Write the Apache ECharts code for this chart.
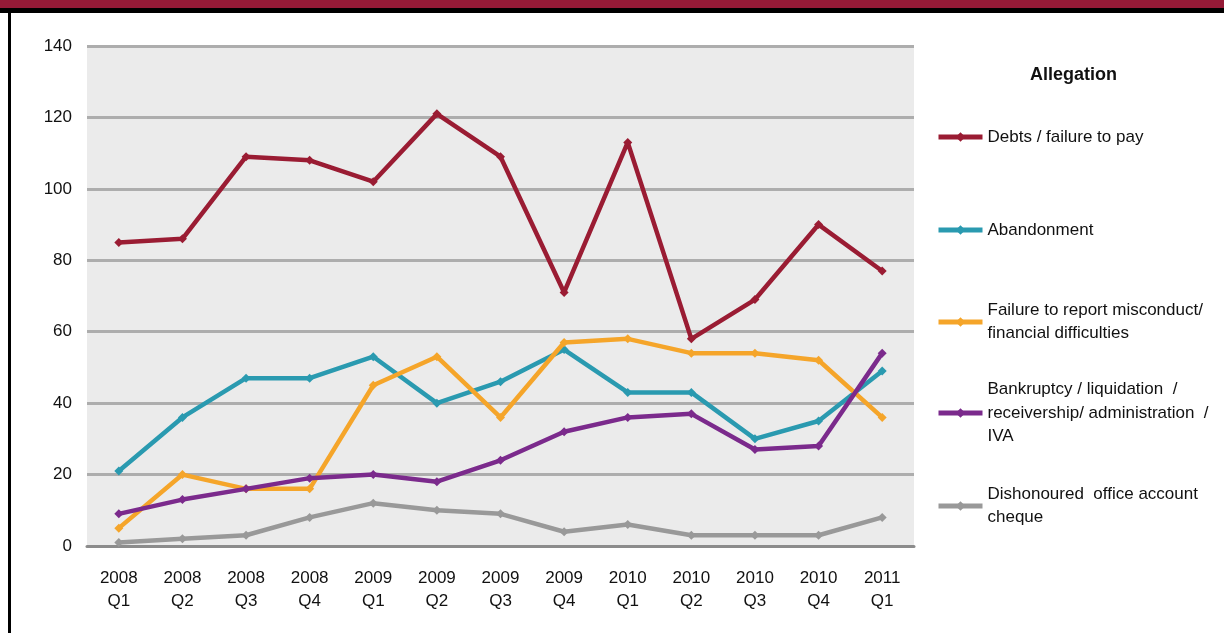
<!DOCTYPE html>
<html><head><meta charset="utf-8">
<script src="https://cdn.jsdelivr.net/npm/echarts@6/dist/echarts.min.js"></script>
<style>html,body{margin:0;padding:0;background:#fff}#c{width:1224px;height:635px}</style>
</head><body><div id="c"></div>
<script>
const categories = ['2008\nQ1','2008\nQ2','2008\nQ3','2008\nQ4','2009\nQ1','2009\nQ2','2009\nQ3','2009\nQ4','2010\nQ1','2010\nQ2','2010\nQ3','2010\nQ4','2011\nQ1'];
const debts = [85, 86, 109, 108, 102, 121, 109, 71, 113, 58, 69, 90, 77];
const abandonment = [21, 36, 47, 47, 53, 40, 46, 55, 43, 43, 30, 35, 49];
const failureReport = [5, 20, 16, 16, 45, 53, 36, 57, 58, 54, 54, 52, 36];
const bankruptcy = [9, 13, 16, 19, 20, 18, 24, 32, 36, 37, 27, 28, 54];
const dishonoured = [1, 2, 3, 8, 12, 10, 9, 4, 6, 3, 3, 3, 8];
const seriesNames = ['Debts / failure to pay','Abandonment','Failure to report misconduct/\nfinancial difficulties','Bankruptcy / liquidation  /\nreceivership/ administration  /\nIVA','Dishonoured  office account\ncheque'];
const legendTitle = 'Allegation';
const colors = ['#9A1C33','#2A9AB0','#F5A52A','#7B2A8C','#999999'];
const dataSets = [debts, abandonment, failureReport, bankruptcy, dishonoured];

const FONT = '"Liberation Sans", Arial, sans-serif';
const LH = 23.5;
const iconCenters = [137, 230, 322, 413, 506];
const chart = echarts.init(document.getElementById('c'), null, {renderer:'canvas'});

const legends = seriesNames.map((name, i) => {
  const n = name.split('\n').length;
  const P = (n - 1) * LH;
  return {
    data: [name],
    left: 936,
    top: iconCenters[i] - (2 * n - 1) * LH / 2,
    padding: 0,
    itemWidth: 44,
    itemHeight: 12,
    itemGap: 0,
    selectedMode: false,
    lineStyle: {width: 5},
    textStyle: {fontFamily: FONT, fontSize: 17, color: '#111', lineHeight: LH, padding: [P, 0, 0, 0]}
  };
});

chart.setOption({
  animation: false,
  color: colors,
  title: {text: legendTitle, left: 1025, top: 61,
    textStyle: {fontFamily: FONT, fontSize: 18, fontWeight: 'bold', color: '#111'}},
  legend: legends,
  grid: {left: 87, right: 310, top: 46, bottom: 89, show: true, backgroundColor: '#EBEBEB', borderWidth: 0},
  xAxis: {
    type: 'category', data: categories, boundaryGap: true,
    axisLine: {lineStyle: {color: '#8C8C8C', width: 3}},
    axisTick: {show: false},
    axisLabel: {fontFamily: FONT, fontSize: 17, color: '#111', lineHeight: 23, margin: 21}
  },
  yAxis: {
    type: 'value', min: 0, max: 140, interval: 20,
    axisLine: {show: false}, axisTick: {show: false},
    axisLabel: {fontFamily: FONT, fontSize: 17, color: '#111', margin: 15},
    splitLine: {lineStyle: {color: '#ADADAD', width: 3}}
  },
  series: seriesNames.map((name, i) => ({
    name: name, type: 'line', data: dataSets[i],
    symbol: 'diamond', symbolSize: 9, showSymbol: true,
    lineStyle: {width: 4.5, color: colors[i]},
    itemStyle: {color: colors[i]},
    z: 2 + i
  })),
  graphic: [
    {type: 'rect', shape: {x: 0, y: 0, width: 1224, height: 8}, style: {fill: '#951A37'}, silent: true},
    {type: 'rect', shape: {x: 0, y: 8, width: 1224, height: 5}, style: {fill: '#000'}, silent: true},
    {type: 'rect', shape: {x: 8, y: 8, width: 3, height: 625}, style: {fill: '#000'}, silent: true}
  ]
});
</script></body></html>
